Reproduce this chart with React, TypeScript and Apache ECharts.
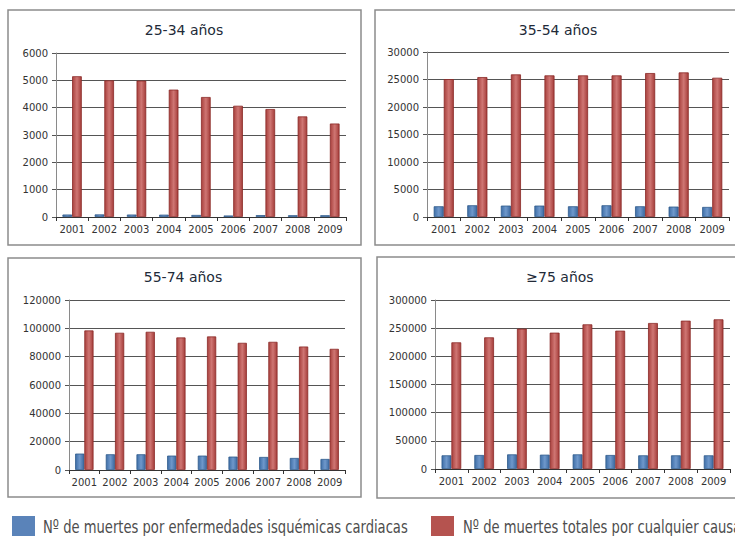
import React, { useEffect, useRef } from "react";
import * as echarts from "echarts";

// Defunciones por año y grupo de edad
const years = ["2001", "2002", "2003", "2004", "2005", "2006", "2007", "2008", "2009"];

const isq2534 = [90, 95, 90, 85, 75, 55, 70, 65, 65];
const tot2534 = [5150, 5000, 4990, 4660, 4390, 4070, 3950, 3680, 3420];

const isq3554 = [1950, 2130, 2070, 2070, 1950, 2130, 1950, 1890, 1830];
const tot3554 = [25070, 25440, 25930, 25750, 25750, 25750, 26170, 26290, 25320];

const isq5574 = [11580, 11100, 11100, 10160, 10160, 9450, 9210, 8500, 7800];
const tot5574 = [98500, 96860, 97560, 93550, 94260, 89770, 90480, 87170, 85520];

const isq75 = [24260, 24850, 26000, 25440, 26000, 24850, 24260, 24260, 24260];
const tot75 = [224850, 233700, 249100, 242000, 256800, 245560, 259170, 263300, 265680];

const titles = ["25-34 años", "35-54 años", "55-74 años", "≥75 años"];
const axisMax = [6000, 30000, 120000, 300000];
const axisStep = [1000, 5000, 20000, 50000];

const nameIsq = "Nº de muertes por enfermedades isquémicas cardiacas";
const nameTot = "Nº de muertes totales por cualquier causa";

// Layout of the four panels
const layout = [
  { grid: { left: 56, top: 53, width: 290, height: 164 }, tx: 184, ty: 30, box: { x: 8, y: 10, width: 353, height: 235 } },
  { grid: { left: 427, top: 52, width: 302, height: 165 }, tx: 558, ty: 30, box: { x: 375, y: 10, width: 380, height: 235 } },
  { grid: { left: 69, top: 300, width: 276, height: 170 }, tx: 183, ty: 277, box: { x: 8, y: 258, width: 353, height: 239 } },
  { grid: { left: 435, top: 300, width: 295, height: 169 }, tx: 560, ty: 277, box: { x: 377, y: 257, width: 380, height: 241 } },
];

const blueFill = new echarts.graphic.LinearGradient(0, 0, 1, 0, [
  { offset: 0, color: "#3f6fa8" },
  { offset: 0.5, color: "#6f98cb" },
  { offset: 1, color: "#3c69a0" },
]);
const redFill = new echarts.graphic.LinearGradient(0, 0, 1, 0, [
  { offset: 0, color: "#a9413e" },
  { offset: 0.5, color: "#cf7673" },
  { offset: 1, color: "#a53d3a" },
]);

const legendFont = '"Liberation Sans Narrow", "DejaVu Sans Condensed", "Liberation Sans", sans-serif';

function fitScale(text: string, target: number): number {
  const c = document.createElement("canvas").getContext("2d");
  if (!c) return 0.8;
  c.font = `18px ${legendFont}`;
  const w = c.measureText(text).width;
  return w > 0 ? target / w : 0.8;
}

export default function App() {
  const ref = useRef<HTMLDivElement>(null);

  useEffect(() => {
    if (!ref.current) return;
    const chart = echarts.init(ref.current, undefined, { renderer: "svg" });

    const data = [
      [isq2534, tot2534],
      [isq3554, tot3554],
      [isq5574, tot5574],
      [isq75, tot75],
    ];

    const labelStyle = { fontFamily: "DejaVu Sans", fontSize: 10, color: "#333" };

    const grids = layout.map((l) => ({ ...l.grid }));
    const xAxes = layout.map((_, i) => ({
      type: "category" as const,
      gridIndex: i,
      data: years,
      boundaryGap: true,
      axisLine: { show: true, lineStyle: { color: "#333", width: 1 } },
      axisTick: { show: true, length: 4, lineStyle: { color: "#333" } },
      axisLabel: { ...labelStyle, margin: 7, interval: 0 },
      splitLine: { show: false },
    }));
    const yAxes = layout.map((_, i) => ({
      type: "value" as const,
      gridIndex: i,
      min: 0,
      max: axisMax[i],
      interval: axisStep[i],
      axisLine: { show: true, lineStyle: { color: "#8a8a8a", width: 1 } },
      axisTick: { show: true, length: 4, lineStyle: { color: "#555" } },
      axisLabel: { ...labelStyle, margin: 8, formatter: (v: number) => String(v) },
      splitLine: { show: true, lineStyle: { color: "#555", width: 1 } },
    }));

    const series: any[] = [];
    data.forEach(([isq, tot], i) => {
      series.push({
        type: "bar",
        name: nameIsq,
        xAxisIndex: i,
        yAxisIndex: i,
        data: isq,
        barGap: "0%",
        barCategoryGap: "40%",
        itemStyle: { color: blueFill, borderColor: "#2f5a8c", borderWidth: 0.8 },
        emphasis: { disabled: true },
      });
      series.push({
        type: "bar",
        name: nameTot,
        xAxisIndex: i,
        yAxisIndex: i,
        data: tot,
        barGap: "0%",
        barCategoryGap: "40%",
        itemStyle: { color: redFill, borderColor: "#8a2a27", borderWidth: 0.8 },
        emphasis: { disabled: true },
      });
    });

    const graphics: any[] = [];
    layout.forEach((l, i) => {
      graphics.push({
        type: "rect",
        shape: { ...l.box },
        style: { fill: "none", stroke: "#8c8c8c", lineWidth: 1.5 },
        z: 0,
      });
      graphics.push({
        type: "text",
        x: l.tx,
        y: l.ty,
        style: {
          text: titles[i],
          fontFamily: "DejaVu Sans",
          fontSize: 14,
          fill: "#222a38",
          align: "center",
          verticalAlign: "middle",
        },
      });
    });

    // Legend swatches and labels
    const s1 = fitScale(nameIsq, 365);
    graphics.push(
      { type: "rect", shape: { x: 12, y: 516, width: 23, height: 20 }, style: { fill: "#5a83b9" } },
      {
        type: "text",
        x: 43,
        y: 527,
        scaleX: s1,
        style: { text: nameIsq, font: `18px ${legendFont}`, fill: "#4d4d4d", verticalAlign: "middle" },
      },
      { type: "rect", shape: { x: 431, y: 516, width: 23, height: 20 }, style: { fill: "#b5534f" } },
      {
        type: "text",
        x: 463,
        y: 527,
        scaleX: s1,
        style: { text: nameTot, font: `18px ${legendFont}`, fill: "#4d4d4d", verticalAlign: "middle" },
      }
    );

    chart.setOption({
      animation: false,
      backgroundColor: "#ffffff",
      grid: grids,
      xAxis: xAxes,
      yAxis: yAxes,
      series,
      graphic: graphics,
    });

    return () => chart.dispose();
  }, []);

  return (
    <div
      ref={ref}
      style={{ position: "fixed", left: 0, top: 0, width: 735, height: 536 }}
    />
  );
}
